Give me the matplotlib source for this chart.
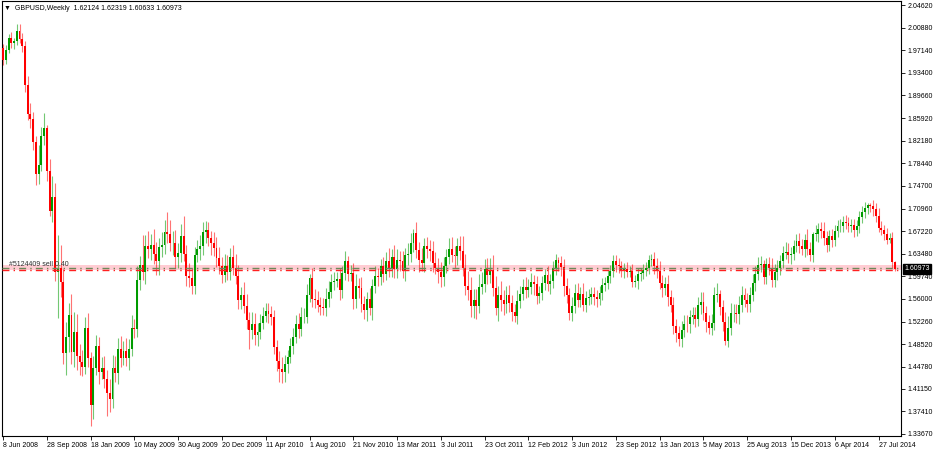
import matplotlib
matplotlib.use("Agg")
import matplotlib.pyplot as plt
import numpy as np

plt.rcParams['font.family'] = ['Liberation Sans', 'DejaVu Sans']

# weekly closes GBPUSD, week starting 8 Jun 2008 .. 7 Sep 2014
c2008 = [1.956, 1.972, 1.992, 1.983, 1.986, 2.004, 1.990, 1.978, 1.914, 1.866,
         1.858, 1.820, 1.766, 1.782, 1.829, 1.842, 1.771, 1.706, 1.728, 1.605,
         1.612, 1.588, 1.470, 1.497, 1.534, 1.472, 1.505, 1.465, 1.455, 1.448]
c2009 = [1.512, 1.462, 1.385, 1.446, 1.482, 1.440, 1.446, 1.428, 1.405, 1.395,
         1.446, 1.438, 1.478, 1.462, 1.474, 1.463, 1.478, 1.512, 1.510, 1.592,
         1.616, 1.604, 1.648, 1.642, 1.650, 1.634, 1.622, 1.646, 1.650, 1.670,
         1.668, 1.652, 1.652, 1.630, 1.636, 1.664, 1.634, 1.598, 1.595, 1.582,
         1.633, 1.643, 1.648, 1.670, 1.674, 1.660, 1.653, 1.645, 1.628, 1.614,
         1.600, 1.614]
c2010 = [1.604, 1.630, 1.612, 1.598, 1.558, 1.566, 1.548, 1.525, 1.508, 1.518,
         1.500, 1.505, 1.520, 1.532, 1.540, 1.535, 1.530, 1.481, 1.458, 1.444,
         1.440, 1.452, 1.464, 1.482, 1.497, 1.518, 1.510, 1.530, 1.530, 1.567,
         1.594, 1.560, 1.558, 1.550, 1.546, 1.545, 1.560, 1.572, 1.588, 1.590,
         1.593, 1.574, 1.603, 1.623, 1.601, 1.603, 1.560, 1.582, 1.578, 1.552,
         1.542, 1.560]
c2011 = [1.545, 1.582, 1.598, 1.596, 1.615, 1.602, 1.623, 1.612, 1.629, 1.610,
         1.625, 1.623, 1.606, 1.632, 1.635, 1.652, 1.669, 1.641, 1.625, 1.620,
         1.647, 1.643, 1.639, 1.620, 1.612, 1.604, 1.597, 1.614, 1.629, 1.643,
         1.633, 1.631, 1.647, 1.640, 1.612, 1.582, 1.575, 1.548, 1.558, 1.548,
         1.580, 1.585, 1.610, 1.600, 1.608, 1.578, 1.545, 1.567, 1.558, 1.552,
         1.566, 1.554]
c2012 = [1.538, 1.532, 1.557, 1.569, 1.580, 1.574, 1.580, 1.588, 1.584, 1.565,
         1.570, 1.586, 1.599, 1.584, 1.590, 1.611, 1.624, 1.619, 1.613, 1.582,
         1.567, 1.536, 1.549, 1.570, 1.558, 1.568, 1.550, 1.561, 1.564, 1.569,
         1.563, 1.560, 1.570, 1.583, 1.586, 1.598, 1.607, 1.622, 1.616, 1.614,
         1.606, 1.610, 1.605, 1.607, 1.588, 1.589, 1.602, 1.603, 1.608, 1.612,
         1.624, 1.626, 1.614]
c2013 = [1.606, 1.587, 1.578, 1.585, 1.564, 1.550, 1.515, 1.504, 1.493, 1.509,
         1.519, 1.518, 1.530, 1.534, 1.527, 1.550, 1.555, 1.537, 1.522, 1.512,
         1.520, 1.567, 1.569, 1.546, 1.522, 1.490, 1.512, 1.536, 1.537, 1.535,
         1.550, 1.566, 1.558, 1.551, 1.567, 1.587, 1.602, 1.616, 1.618, 1.597,
         1.617, 1.612, 1.592, 1.604, 1.612, 1.622, 1.636, 1.638, 1.632, 1.634,
         1.648, 1.656]
c2014 = [1.648, 1.643, 1.658, 1.643, 1.632, 1.668, 1.668, 1.675, 1.673, 1.661,
         1.650, 1.664, 1.658, 1.673, 1.680, 1.681, 1.688, 1.686, 1.681, 1.683,
         1.674, 1.680, 1.695, 1.704, 1.710, 1.716, 1.714, 1.708, 1.698, 1.678,
         1.674, 1.667, 1.657, 1.660, 1.62124, 1.60973]
first_open = 1.975

# wick lengths in pips above the body and below it
upper = [60, 80, 70, 90, 60, 110, 110, 100, 80, 150,
         180, 120, 90, 330, 150, 250, 60, 200, 350, 230,
         540, 380, 220, 250, 200, 350, 330, 300, 200, 200,
         180, 250, 100, 200, 180, 150, 180, 200, 150, 230,
         220, 200, 180, 200, 160, 220, 150, 220, 150, 220,
         150, 500, 180, 250, 180, 250, 200, 150, 210, 200,
         340, 220, 200, 220, 160, 200, 330, 150, 220, 170,
         130, 140, 170, 170, 150, 140, 130, 180, 180, 180,
         150, 200, 190, 150, 200, 220, 180, 130, 220, 200,
         130, 200, 190, 150, 150, 140, 130, 130, 140, 120,
         110, 160, 200, 150, 120, 140, 150, 160, 180, 170,
         150, 170, 70, 180, 160, 150, 130, 160, 180, 170,
         140, 150, 120, 180, 120, 160, 80, 130, 160, 190,
         120, 190, 130, 120, 180, 110, 170, 140, 110, 150,
         140, 220, 140, 200, 170, 140, 160, 120, 170, 170,
         60, 190, 140, 200, 140, 160, 150, 170, 180, 160,
         170, 150, 130, 180, 200, 140, 140, 170, 240, 230,
         250, 220, 180, 190, 220, 200, 160, 180, 190, 240,
         200, 140, 220, 160, 150, 170, 120, 130, 170, 130,
         130, 160, 130, 150, 120, 140, 120, 120, 110, 160,
         110, 120, 110, 60, 120, 130, 120, 110, 140, 150,
         170, 110, 180, 120, 120, 110, 110, 120, 110, 110,
         110, 100, 90, 110, 100, 120, 90, 100, 110, 80,
         110, 100, 90, 90, 90, 90, 90, 90, 110, 130,
         170, 120, 120, 140, 100, 130, 120, 120, 150, 150,
         150, 120, 120, 130, 140, 160, 170, 120, 120, 150,
         130, 180, 60, 120, 160, 200, 180, 150, 150, 150,
         150, 120, 120, 130, 150, 120, 130, 130, 60, 110,
         130, 150, 130, 120, 110, 110, 160, 150, 120, 90,
         110, 130, 110, 90, 170, 120, 20, 150, 100, 120,
         140, 120, 100, 120, 100, 110, 110, 100, 115, 100,
         90, 100, 110, 100, 100, 100, 30, 30, 100, 110,
         120, 110, 90, 100, 90, 100, 20]
lower = [90, 70, 60, 80, 100, 60, 70, 90, 120, 100,
         150, 130, 170, 160, 100, 140, 160, 80, 190, 150,
         770, 250, 180, 350, 240, 200, 250, 230, 210, 150,
         120, 150, 350, 230, 120, 200, 130, 150, 390, 220,
         150, 150, 180, 150, 120, 140, 200, 120, 140, 130,
         180, 130, 200, 150, 170, 170, 220, 230, 160, 150,
         160, 120, 200, 180, 190, 150, 110, 170, 160, 130,
         130, 120, 180, 150, 180, 130, 200, 140, 150, 120,
         130, 120, 120, 120, 120, 140, 150, 140, 120, 150,
         300, 150, 160, 170, 120, 90, 100, 140, 130, 120,
         170, 210, 190, 180, 140, 100, 130, 100, 150, 120,
         100, 100, 120, 140, 130, 120, 130, 110, 130, 140,
         100, 130, 110, 160, 130, 120, 120, 120, 160, 150,
         160, 130, 150, 190, 120, 190, 120, 140, 130, 140,
         110, 150, 150, 150, 160, 160, 120, 160, 160, 140,
         150, 130, 200, 140, 150, 150, 160, 150, 110, 170,
         170, 150, 110, 120, 120, 200, 150, 150, 140, 160,
         160, 180, 190, 210, 120, 120, 140, 160, 130, 130,
         110, 210, 180, 180, 160, 150, 140, 100, 140, 120,
         110, 130, 110, 120, 170, 140, 120, 110, 110, 110,
         150, 120, 110, 120, 150, 170, 140, 100, 130, 120,
         110, 120, 100, 120, 110, 120, 130, 130, 100, 110,
         100, 90, 110, 100, 110, 110, 90, 110, 90, 80,
         80, 90, 120, 120, 100, 100, 100, 90, 120, 110,
         100, 140, 120, 150, 110, 130, 150, 100, 130, 120,
         130, 140, 110, 130, 110, 150, 120, 160, 100, 120,
         120, 120, 130, 150, 60, 90, 120, 140, 140, 170,
         110, 120, 120, 120, 110, 140, 100, 120, 130, 120,
         120, 120, 130, 120, 130, 100, 100, 120, 140, 100,
         110, 120, 110, 130, 110, 100, 110, 120, 130, 120,
         110, 120, 100, 120, 110, 100, 100, 100, 110, 100,
         100, 120, 100, 110, 90, 100, 100, 100, 100, 100,
         70, 80, 100, 60, 50, 100, 34]

date_labels = ["8 Jun 2008", "28 Sep 2008", "18 Jan 2009", "10 May 2009", "30 Aug 2009",
               "20 Dec 2009", "11 Apr 2010", "1 Aug 2010", "21 Nov 2010", "13 Mar 2011",
               "3 Jul 2011", "23 Oct 2011", "12 Feb 2012", "3 Jun 2012", "23 Sep 2012",
               "13 Jan 2013", "5 May 2013", "25 Aug 2013", "15 Dec 2013", "6 Apr 2014",
               "27 Jul 2014"]
price_ticks = [2.04620, 2.00880, 1.97140, 1.93400, 1.89660, 1.85920, 1.82180, 1.78440,
               1.74700, 1.70960, 1.67220, 1.63480, 1.59740, 1.56000, 1.52260, 1.48520,
               1.44780, 1.41150, 1.37410, 1.33670]
last_price = 1.60973
order_price = 1.6112
stop_price = 1.6078
band = (1.6086, 1.6168)

closes = np.array(c2008 + c2009 + c2010 + c2011 + c2012 + c2013 + c2014)
opens = np.concatenate([[first_open], closes[:-1]])
highs = np.maximum(opens, closes) + np.array(upper) * 1e-4
lows = np.minimum(opens, closes) - np.array(lower) * 1e-4
x = np.arange(len(closes))

W, H = 934, 450
fig = plt.figure(figsize=(W / 100, H / 100), dpi=100)
fig.patch.set_facecolor("white")
left, right, top, bottom = 2, 901, 1, 436
ax = fig.add_axes([left / W, 1 - bottom / H, (right - left) / W, (bottom - top) / H])

green, red = "#009b00", "#ff0000"
up_mask = closes >= opens
cols = np.where(up_mask, green, red)
ax.vlines(x, lows, highs, colors=cols, linewidth=0.8, alpha=0.55, zorder=2)
body_lo = np.minimum(opens, closes)
body_h = np.maximum(np.abs(closes - opens), 0.0008)
ax.bar(x, body_h, bottom=body_lo, width=0.7, color=cols, linewidth=0, zorder=3)

# order rectangle and lines
ax.axhspan(band[0], band[1], color="#ffc4cc", alpha=0.85, zorder=1, linewidth=0)
ax.axhline(order_price, color="#6a8a5a", linewidth=1.0, dashes=(5, 3, 1, 3), zorder=4)
ax.axhline(stop_price, color="#ff2020", linewidth=1.0, dashes=(5, 3, 1, 3), zorder=4)
ax.text(2, order_price + 0.0006, "#5124409 sell 0.40", fontsize=5, color="#303030",
        va="bottom", ha="left", zorder=5)

ax.set_xlim(-0.4, 328.2)
p_top = 2.0462 + (5 - top) / 604.6
p_bot = 2.0462 - (bottom - 5) / 604.6
ax.set_ylim(p_bot, p_top)

ax.yaxis.tick_right()
ax.set_yticks(price_ticks)
ax.set_yticklabels(["%.5f" % p for p in price_ticks], fontsize=5)
ax.set_xticks(np.arange(0, 321, 16))
ax.set_xticklabels(date_labels, fontsize=5, ha="left")
ax.tick_params(axis="both", direction="out", length=3, width=0.6, pad=1.5, colors="black")
for s in ax.spines.values():
    s.set_linewidth(0.8)
    s.set_color("black")

ax.text(1.004, last_price, "%.5f" % last_price, transform=ax.get_yaxis_transform(),
        fontsize=5, color="white", va="center", ha="left",
        bbox=dict(boxstyle="square,pad=0.2", fc="black", ec="black"), zorder=6, clip_on=False)

fig.text(4 / W, 1 - 8 / H, "\u25bc  GBPUSD,Weekly  1.62124 1.62319 1.60633 1.60973",
         fontsize=5, va="center", ha="left")

fig.savefig("out.png", dpi=100)
